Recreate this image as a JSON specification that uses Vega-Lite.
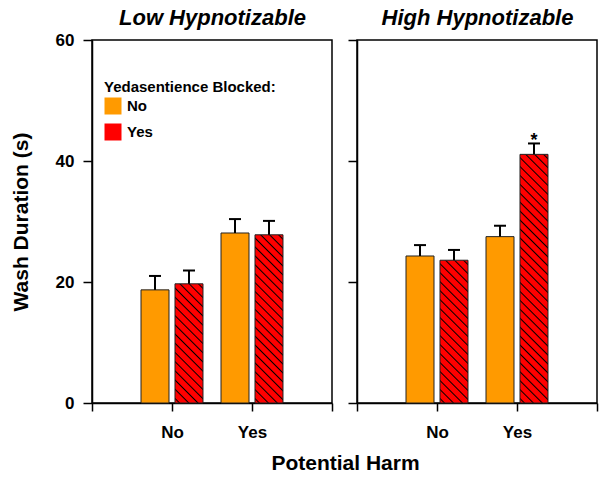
{
"$schema":"https://vega.github.io/schema/vega-lite/v6.json",
"background":"white",
"padding":{"left":9,"top":5,"right":3,"bottom":4},
"bounds":"flush",
"spacing":25,
"data":{"values":[
{"group":"Low","harm":"No","blocked":"No","mean":18.7,"upper":21.0,"sig":""},
{"group":"Low","harm":"No","blocked":"Yes","mean":19.7,"upper":21.9,"sig":""},
{"group":"Low","harm":"Yes","blocked":"No","mean":28.1,"upper":30.4,"sig":""},
{"group":"Low","harm":"Yes","blocked":"Yes","mean":27.8,"upper":30.1,"sig":""},
{"group":"High","harm":"No","blocked":"No","mean":24.3,"upper":26.1,"sig":""},
{"group":"High","harm":"No","blocked":"Yes","mean":23.6,"upper":25.3,"sig":""},
{"group":"High","harm":"Yes","blocked":"No","mean":27.5,"upper":29.3,"sig":""},
{"group":"High","harm":"Yes","blocked":"Yes","mean":41.1,"upper":42.9,"sig":"*"}
]},
"hconcat":[
{
"width":240,"height":363,
"transform":[{"filter":"datum.group === 'Low'"}],
"layer":[
{
"encoding":{
"x":{"field":"harm","type":"nominal","scale":{"type":"band","domain":["No","Yes"],"paddingInner":0,"paddingOuter":0.5},"axis":{"orient":"top","domain":false,"ticks":false,"labels":false,"title":"Low Hypnotizable","titleFontSize":22,"titleFontStyle":"italic","titlePadding":11}},
"xOffset":{"field":"blocked","type":"nominal","scale":{"domain":["No","Yes"],"paddingInner":0.176,"paddingOuter":0.265}}
},
"layer":[
{"mark":{"type":"bar","stroke":"#222","strokeWidth":1},
"encoding":{
"y":{"field":"mean","type":"quantitative","scale":{"domain":[0,60],"nice":false},"axis":{"values":[0,20,40,60],"title":"Wash Duration (s)"}},
"fill":{"field":"blocked","type":"nominal","scale":{"domain":["No","Yes"],"range":["#FF9A00","#FF0000"]},
"legend":{"title":"Yedasentience Blocked:","orient":"none","legendX":12,"legendY":40,"symbolType":"square","symbolSize":289,"symbolStrokeColor":"#000","symbolStrokeWidth":1,"symbolOpacity":1,"labelFontSize":15,"labelFontWeight":"bold","titleFontSize":15,"titleFontWeight":"bold","labelFont":"Liberation Sans","titleFont":"Liberation Sans","labelColor":"#000","titleColor":"#000","rowPadding":4,"titlePadding":2,"labelOffset":5,
"encode":{"symbols":{"update":{"fill":[{"test":"datum.value === 'Yes'","value":{"gradient":"linear","x1":0,"y1":1,"x2":1,"y2":0,"stops":[{"offset":0,"color":"#f00"},{"offset":0.409,"color":"#f00"},{"offset":0.45,"color":"#000"},{"offset":0.491,"color":"#f00"},{"offset":0.809,"color":"#f00"},{"offset":0.85,"color":"#000"},{"offset":0.891,"color":"#f00"},{"offset":1,"color":"#f00"}]}},{"value":"#FF9A00"}]}}}},
"condition":[
{"test":"datum.harm === 'No' && datum.blocked === 'Yes'","value":{"gradient":"linear","x1":0,"y1":1,"x2":0.2749,"y2":-0.1703,"stops":[
{"offset":0,"color":"#f00"},
{"offset":0.0218,"color":"#f00"},{"offset":0.0313,"color":"#000"},{"offset":0.0408,"color":"#f00"},
{"offset":0.0843,"color":"#f00"},{"offset":0.0938,"color":"#000"},{"offset":0.1033,"color":"#f00"},
{"offset":0.1468,"color":"#f00"},{"offset":0.1563,"color":"#000"},{"offset":0.1658,"color":"#f00"},
{"offset":0.2093,"color":"#f00"},{"offset":0.2188,"color":"#000"},{"offset":0.2283,"color":"#f00"},
{"offset":0.2718,"color":"#f00"},{"offset":0.2813,"color":"#000"},{"offset":0.2908,"color":"#f00"},
{"offset":0.3343,"color":"#f00"},{"offset":0.3438,"color":"#000"},{"offset":0.3533,"color":"#f00"},
{"offset":0.3968,"color":"#f00"},{"offset":0.4063,"color":"#000"},{"offset":0.4158,"color":"#f00"},
{"offset":0.4593,"color":"#f00"},{"offset":0.4688,"color":"#000"},{"offset":0.4783,"color":"#f00"},
{"offset":0.5218,"color":"#f00"},{"offset":0.5313,"color":"#000"},{"offset":0.5408,"color":"#f00"},
{"offset":0.5843,"color":"#f00"},{"offset":0.5938,"color":"#000"},{"offset":0.6033,"color":"#f00"},
{"offset":0.6468,"color":"#f00"},{"offset":0.6563,"color":"#000"},{"offset":0.6658,"color":"#f00"},
{"offset":0.7093,"color":"#f00"},{"offset":0.7188,"color":"#000"},{"offset":0.7283,"color":"#f00"},
{"offset":0.7718,"color":"#f00"},{"offset":0.7813,"color":"#000"},{"offset":0.7908,"color":"#f00"},
{"offset":0.8343,"color":"#f00"},{"offset":0.8438,"color":"#000"},{"offset":0.8533,"color":"#f00"},
{"offset":0.8968,"color":"#f00"},{"offset":0.9063,"color":"#000"},{"offset":0.9158,"color":"#f00"},
{"offset":0.9593,"color":"#f00"},{"offset":0.9688,"color":"#000"},{"offset":0.9783,"color":"#f00"},
{"offset":1,"color":"#f00"}]}},
{"test":"datum.harm === 'Yes' && datum.blocked === 'Yes'","value":{"gradient":"linear","x1":0,"y1":1,"x2":0.189,"y2":-0.1352,"stops":[
{"offset":0,"color":"#f00"},
{"offset":0.0156,"color":"#f00"},{"offset":0.0227,"color":"#000"},{"offset":0.0298,"color":"#f00"},
{"offset":0.0611,"color":"#f00"},{"offset":0.0682,"color":"#000"},{"offset":0.0753,"color":"#f00"},
{"offset":0.1065,"color":"#f00"},{"offset":0.1136,"color":"#000"},{"offset":0.1207,"color":"#f00"},
{"offset":0.152,"color":"#f00"},{"offset":0.1591,"color":"#000"},{"offset":0.1662,"color":"#f00"},
{"offset":0.1974,"color":"#f00"},{"offset":0.2045,"color":"#000"},{"offset":0.2116,"color":"#f00"},
{"offset":0.2429,"color":"#f00"},{"offset":0.25,"color":"#000"},{"offset":0.2571,"color":"#f00"},
{"offset":0.2884,"color":"#f00"},{"offset":0.2955,"color":"#000"},{"offset":0.3026,"color":"#f00"},
{"offset":0.3338,"color":"#f00"},{"offset":0.3409,"color":"#000"},{"offset":0.348,"color":"#f00"},
{"offset":0.3793,"color":"#f00"},{"offset":0.3864,"color":"#000"},{"offset":0.3935,"color":"#f00"},
{"offset":0.4247,"color":"#f00"},{"offset":0.4318,"color":"#000"},{"offset":0.4389,"color":"#f00"},
{"offset":0.4702,"color":"#f00"},{"offset":0.4773,"color":"#000"},{"offset":0.4844,"color":"#f00"},
{"offset":0.5156,"color":"#f00"},{"offset":0.5227,"color":"#000"},{"offset":0.5298,"color":"#f00"},
{"offset":0.5611,"color":"#f00"},{"offset":0.5682,"color":"#000"},{"offset":0.5753,"color":"#f00"},
{"offset":0.6065,"color":"#f00"},{"offset":0.6136,"color":"#000"},{"offset":0.6207,"color":"#f00"},
{"offset":0.652,"color":"#f00"},{"offset":0.6591,"color":"#000"},{"offset":0.6662,"color":"#f00"},
{"offset":0.6974,"color":"#f00"},{"offset":0.7045,"color":"#000"},{"offset":0.7116,"color":"#f00"},
{"offset":0.7429,"color":"#f00"},{"offset":0.75,"color":"#000"},{"offset":0.7571,"color":"#f00"},
{"offset":0.7884,"color":"#f00"},{"offset":0.7955,"color":"#000"},{"offset":0.8026,"color":"#f00"},
{"offset":0.8338,"color":"#f00"},{"offset":0.8409,"color":"#000"},{"offset":0.848,"color":"#f00"},
{"offset":0.8793,"color":"#f00"},{"offset":0.8864,"color":"#000"},{"offset":0.8935,"color":"#f00"},
{"offset":0.9247,"color":"#f00"},{"offset":0.9318,"color":"#000"},{"offset":0.9389,"color":"#f00"},
{"offset":0.9702,"color":"#f00"},{"offset":0.9773,"color":"#000"},{"offset":0.9844,"color":"#f00"},
{"offset":1,"color":"#f00"}]}}
]}}},
{"mark":{"type":"rule","color":"#000","strokeWidth":2},
"encoding":{"y":{"field":"mean","type":"quantitative","scale":{"domain":[0,60],"nice":false},"axis":{"values":[0,20,40,60],"title":"Wash Duration (s)"}},"y2":{"field":"upper"}}},
{"mark":{"type":"tick","color":"#000","size":12,"thickness":2,"opacity":1},
"encoding":{"y":{"field":"upper","type":"quantitative","scale":{"domain":[0,60],"nice":false},"axis":{"values":[0,20,40,60],"title":"Wash Duration (s)"}}}}
]
},
{"mark":{"type":"point","opacity":0},
"encoding":{
"x":{"field":"harm","type":"nominal","scale":{"type":"point","domain":["L","No","Yes","R"],"padding":0},"axis":{"orient":"bottom","labelExpr":"datum.value === 'L' || datum.value === 'R' ? '' : datum.label","title":"Potential Harm","titleX":253}},
"y":{"field":"mean","type":"quantitative","scale":{"domain":[0,60],"nice":false},"axis":{"values":[0,20,40,60],"title":"Wash Duration (s)"}}}}
],
"resolve":{"scale":{"x":"independent"},"axis":{"x":"independent"}}
},
{
"width":240,"height":363,
"transform":[{"filter":"datum.group === 'High'"}],
"layer":[
{
"encoding":{
"x":{"field":"harm","type":"nominal","scale":{"type":"band","domain":["No","Yes"],"paddingInner":0,"paddingOuter":0.5},"axis":{"orient":"top","domain":false,"ticks":false,"labels":false,"title":"High Hypnotizable","titleFontSize":22,"titleFontStyle":"italic","titlePadding":11}},
"xOffset":{"field":"blocked","type":"nominal","scale":{"domain":["No","Yes"],"paddingInner":0.176,"paddingOuter":0.265}}
},
"layer":[
{"mark":{"type":"bar","stroke":"#222","strokeWidth":1},
"encoding":{
"y":{"field":"mean","type":"quantitative","scale":{"domain":[0,60],"nice":false},"axis":{"values":[0,20,40,60],"labels":false,"title":null}},
"fill":{"field":"blocked","type":"nominal","scale":{"domain":["No","Yes"],"range":["#FF9A00","#FF0000"]},"legend":null,
"condition":[
{"test":"datum.harm === 'No' && datum.blocked === 'Yes'","value":{"gradient":"linear","x1":0,"y1":1,"x2":0.2258,"y2":-0.1518,"stops":[
{"offset":0,"color":"#f00"},
{"offset":0.0181,"color":"#f00"},{"offset":0.0263,"color":"#000"},{"offset":0.0345,"color":"#f00"},
{"offset":0.0707,"color":"#f00"},{"offset":0.0789,"color":"#000"},{"offset":0.0871,"color":"#f00"},
{"offset":0.1234,"color":"#f00"},{"offset":0.1316,"color":"#000"},{"offset":0.1398,"color":"#f00"},
{"offset":0.176,"color":"#f00"},{"offset":0.1842,"color":"#000"},{"offset":0.1924,"color":"#f00"},
{"offset":0.2286,"color":"#f00"},{"offset":0.2368,"color":"#000"},{"offset":0.245,"color":"#f00"},
{"offset":0.2813,"color":"#f00"},{"offset":0.2895,"color":"#000"},{"offset":0.2977,"color":"#f00"},
{"offset":0.3339,"color":"#f00"},{"offset":0.3421,"color":"#000"},{"offset":0.3503,"color":"#f00"},
{"offset":0.3865,"color":"#f00"},{"offset":0.3947,"color":"#000"},{"offset":0.4029,"color":"#f00"},
{"offset":0.4392,"color":"#f00"},{"offset":0.4474,"color":"#000"},{"offset":0.4556,"color":"#f00"},
{"offset":0.4918,"color":"#f00"},{"offset":0.5,"color":"#000"},{"offset":0.5082,"color":"#f00"},
{"offset":0.5444,"color":"#f00"},{"offset":0.5526,"color":"#000"},{"offset":0.5608,"color":"#f00"},
{"offset":0.5971,"color":"#f00"},{"offset":0.6053,"color":"#000"},{"offset":0.6135,"color":"#f00"},
{"offset":0.6497,"color":"#f00"},{"offset":0.6579,"color":"#000"},{"offset":0.6661,"color":"#f00"},
{"offset":0.7023,"color":"#f00"},{"offset":0.7105,"color":"#000"},{"offset":0.7187,"color":"#f00"},
{"offset":0.755,"color":"#f00"},{"offset":0.7632,"color":"#000"},{"offset":0.7714,"color":"#f00"},
{"offset":0.8076,"color":"#f00"},{"offset":0.8158,"color":"#000"},{"offset":0.824,"color":"#f00"},
{"offset":0.8602,"color":"#f00"},{"offset":0.8684,"color":"#000"},{"offset":0.8766,"color":"#f00"},
{"offset":0.9129,"color":"#f00"},{"offset":0.9211,"color":"#000"},{"offset":0.9293,"color":"#f00"},
{"offset":0.9655,"color":"#f00"},{"offset":0.9737,"color":"#000"},{"offset":0.9819,"color":"#f00"},
{"offset":1,"color":"#f00"}]}},
{"test":"datum.harm === 'Yes' && datum.blocked === 'Yes'","value":{"gradient":"linear","x1":0,"y1":1,"x2":0.1237,"y2":-0.0987,"stops":[
{"offset":0,"color":"#f00"},
{"offset":0.011,"color":"#f00"},{"offset":0.0161,"color":"#000"},{"offset":0.0212,"color":"#f00"},
{"offset":0.0433,"color":"#f00"},{"offset":0.0484,"color":"#000"},{"offset":0.0535,"color":"#f00"},
{"offset":0.0755,"color":"#f00"},{"offset":0.0806,"color":"#000"},{"offset":0.0857,"color":"#f00"},
{"offset":0.1078,"color":"#f00"},{"offset":0.1129,"color":"#000"},{"offset":0.118,"color":"#f00"},
{"offset":0.1401,"color":"#f00"},{"offset":0.1452,"color":"#000"},{"offset":0.1503,"color":"#f00"},
{"offset":0.1723,"color":"#f00"},{"offset":0.1774,"color":"#000"},{"offset":0.1825,"color":"#f00"},
{"offset":0.2046,"color":"#f00"},{"offset":0.2097,"color":"#000"},{"offset":0.2148,"color":"#f00"},
{"offset":0.2368,"color":"#f00"},{"offset":0.2419,"color":"#000"},{"offset":0.247,"color":"#f00"},
{"offset":0.2691,"color":"#f00"},{"offset":0.2742,"color":"#000"},{"offset":0.2793,"color":"#f00"},
{"offset":0.3014,"color":"#f00"},{"offset":0.3065,"color":"#000"},{"offset":0.3116,"color":"#f00"},
{"offset":0.3336,"color":"#f00"},{"offset":0.3387,"color":"#000"},{"offset":0.3438,"color":"#f00"},
{"offset":0.3659,"color":"#f00"},{"offset":0.371,"color":"#000"},{"offset":0.3761,"color":"#f00"},
{"offset":0.3981,"color":"#f00"},{"offset":0.4032,"color":"#000"},{"offset":0.4083,"color":"#f00"},
{"offset":0.4304,"color":"#f00"},{"offset":0.4355,"color":"#000"},{"offset":0.4406,"color":"#f00"},
{"offset":0.4626,"color":"#f00"},{"offset":0.4677,"color":"#000"},{"offset":0.4728,"color":"#f00"},
{"offset":0.4949,"color":"#f00"},{"offset":0.5,"color":"#000"},{"offset":0.5051,"color":"#f00"},
{"offset":0.5272,"color":"#f00"},{"offset":0.5323,"color":"#000"},{"offset":0.5374,"color":"#f00"},
{"offset":0.5594,"color":"#f00"},{"offset":0.5645,"color":"#000"},{"offset":0.5696,"color":"#f00"},
{"offset":0.5917,"color":"#f00"},{"offset":0.5968,"color":"#000"},{"offset":0.6019,"color":"#f00"},
{"offset":0.6239,"color":"#f00"},{"offset":0.629,"color":"#000"},{"offset":0.6341,"color":"#f00"},
{"offset":0.6562,"color":"#f00"},{"offset":0.6613,"color":"#000"},{"offset":0.6664,"color":"#f00"},
{"offset":0.6884,"color":"#f00"},{"offset":0.6935,"color":"#000"},{"offset":0.6986,"color":"#f00"},
{"offset":0.7207,"color":"#f00"},{"offset":0.7258,"color":"#000"},{"offset":0.7309,"color":"#f00"},
{"offset":0.753,"color":"#f00"},{"offset":0.7581,"color":"#000"},{"offset":0.7632,"color":"#f00"},
{"offset":0.7852,"color":"#f00"},{"offset":0.7903,"color":"#000"},{"offset":0.7954,"color":"#f00"},
{"offset":0.8175,"color":"#f00"},{"offset":0.8226,"color":"#000"},{"offset":0.8277,"color":"#f00"},
{"offset":0.8497,"color":"#f00"},{"offset":0.8548,"color":"#000"},{"offset":0.8599,"color":"#f00"},
{"offset":0.882,"color":"#f00"},{"offset":0.8871,"color":"#000"},{"offset":0.8922,"color":"#f00"},
{"offset":0.9143,"color":"#f00"},{"offset":0.9194,"color":"#000"},{"offset":0.9245,"color":"#f00"},
{"offset":0.9465,"color":"#f00"},{"offset":0.9516,"color":"#000"},{"offset":0.9567,"color":"#f00"},
{"offset":0.9788,"color":"#f00"},{"offset":0.9839,"color":"#000"},{"offset":0.989,"color":"#f00"},
{"offset":1,"color":"#f00"}]}}
]}}},
{"mark":{"type":"rule","color":"#000","strokeWidth":2},
"encoding":{"y":{"field":"mean","type":"quantitative","scale":{"domain":[0,60],"nice":false},"axis":{"values":[0,20,40,60],"labels":false,"title":null}},"y2":{"field":"upper"}}},
{"mark":{"type":"tick","color":"#000","size":12,"thickness":2,"opacity":1},
"encoding":{"y":{"field":"upper","type":"quantitative","scale":{"domain":[0,60],"nice":false},"axis":{"values":[0,20,40,60],"labels":false,"title":null}}}},
{"mark":{"type":"text","baseline":"alphabetic","dy":3,"fontSize":18,"fontWeight":"bold","font":"Liberation Sans","color":"#000"},
"encoding":{"y":{"field":"upper","type":"quantitative","scale":{"domain":[0,60],"nice":false},"axis":{"values":[0,20,40,60],"labels":false,"title":null}},"text":{"field":"sig"}}}
]
},
{"mark":{"type":"point","opacity":0},
"encoding":{
"x":{"field":"harm","type":"nominal","scale":{"type":"point","domain":["L","No","Yes","R"],"padding":0},"axis":{"orient":"bottom","labelExpr":"datum.value === 'L' || datum.value === 'R' ? '' : datum.label","title":null}},
"y":{"field":"mean","type":"quantitative","scale":{"domain":[0,60],"nice":false},"axis":{"values":[0,20,40,60],"labels":false,"title":null}}}}
],
"resolve":{"scale":{"x":"independent"},"axis":{"x":"independent"}}
}
],
"config":{
"font":"Liberation Sans",
"view":{"stroke":"#000","strokeWidth":1.5},
"axis":{"domainColor":"#000","domainWidth":1.5,"tickColor":"#000","tickWidth":1.5,"labelColor":"#000","labelFont":"Liberation Sans","labelFontSize":17,"labelFontWeight":"bold","titleFont":"Liberation Sans","titleFontSize":21,"titleFontWeight":"bold","titleColor":"#000","grid":false},
"axisY":{"tickSize":9,"labelPadding":9,"titlePadding":24},
"axisX":{"tickSize":8,"labelPadding":13,"labelAngle":0,"titlePadding":12}
}
}
